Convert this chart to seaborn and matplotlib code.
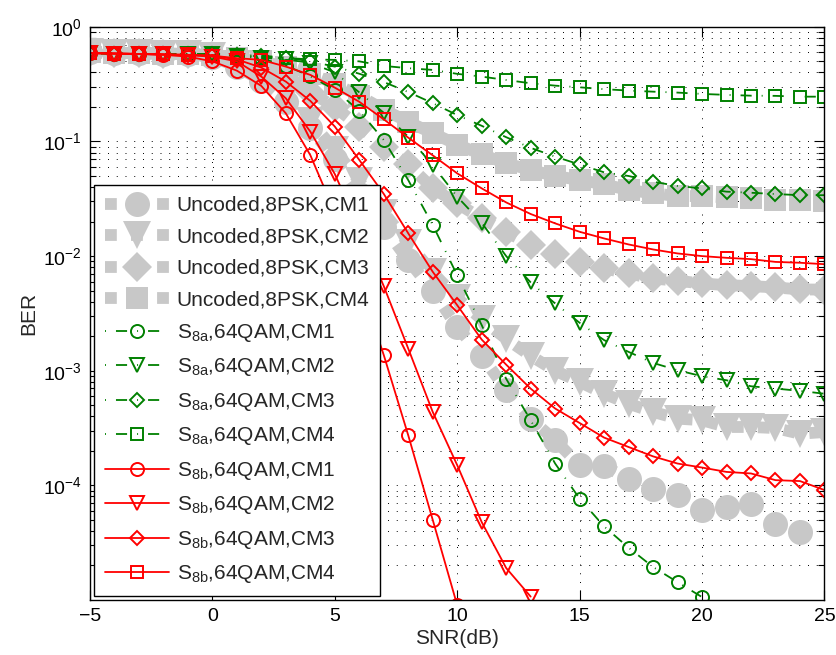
import numpy as np
import matplotlib
matplotlib.use("Agg")
import matplotlib.pyplot as plt
import matplotlib.ticker as mticker
import seaborn as sns

# SNR grid (dB)
snr = list(range(-5, 26))

# Uncoded, 8PSK
unc_cm1 = [0.60, 0.595, 0.59, 0.585, 0.575, 0.55, 0.45, 0.34, 0.22, 0.13, 0.07, 0.035, 0.018,
           9.2e-3, 5.0e-3, 2.4e-3, 1.35e-3, 6.8e-4, 3.8e-4, 2.47e-4, 1.5e-4, 1.47e-4, 1.14e-4,
           9.3e-5, 8.2e-5, 6.05e-5, 6.46e-5, 6.9e-5, 4.63e-5, 3.91e-5]
unc_cm2 = [0.60, 0.595, 0.59, 0.585, 0.575, 0.56, 0.47, 0.36, 0.25, 0.15, 0.085, 0.045, 0.024,
           0.013, 7.2e-3, 4.3e-3, 2.8e-3, 1.9e-3, 1.35e-3, 1.0e-3, 8.0e-4, 6.3e-4, 5.16e-4,
           4.37e-4, 3.82e-4, 3.7e-4, 3.23e-4, 3.23e-4, 3.16e-4, 2.82e-4, 2.92e-4]
unc_cm3 = [0.60, 0.595, 0.59, 0.585, 0.58, 0.56, 0.50, 0.43, 0.35, 0.27, 0.20, 0.135, 0.09,
           0.063, 0.039, 0.0288, 0.0213, 0.0163, 0.0125, 0.0105, 8.9e-3, 7.8e-3, 7.06e-3,
           6.38e-3, 6.09e-3, 5.77e-3, 5.58e-3, 5.47e-3, 5.33e-3, 5.12e-3, 5.1e-3]
unc_cm4 = [0.60, 0.595, 0.59, 0.585, 0.58, 0.57, 0.54, 0.50, 0.45, 0.39, 0.32, 0.25, 0.19,
           0.148, 0.118, 0.094, 0.077, 0.0645, 0.0564, 0.050, 0.0461, 0.0423, 0.0377, 0.0353,
           0.0334, 0.0334, 0.0325, 0.0319, 0.0308, 0.0308, 0.0304]

# S8a, 64QAM
s8a_cm1 = [0.59, 0.585, 0.58, 0.58, 0.575, 0.57, 0.56, 0.53, 0.46, 0.37, 0.282, 0.185, 0.103,
           0.046, 0.0187, 6.8e-3, 2.5e-3, 8.5e-4, 3.7e-4, 1.55e-4, 7.65e-5, 4.38e-5, 2.86e-5,
           1.94e-5, 1.43e-5, 1.06e-5]
s8a_cm2 = [0.59, 0.585, 0.58, 0.58, 0.575, 0.575, 0.56, 0.54, 0.52, 0.485, 0.40, 0.268, 0.178,
           0.11, 0.062, 0.033, 0.0195, 0.0100, 5.9e-3, 3.86e-3, 2.62e-3, 1.85e-3, 1.46e-3,
           1.17e-3, 1.01e-3, 8.95e-4, 8.26e-4, 7.32e-4, 6.99e-4, 6.67e-4, 6.3e-4]
s8a_cm3 = [0.59, 0.585, 0.58, 0.58, 0.58, 0.575, 0.57, 0.56, 0.54, 0.50, 0.45, 0.39, 0.33,
           0.27, 0.216, 0.17, 0.137, 0.109, 0.088, 0.0737, 0.063, 0.0538, 0.050, 0.0446,
           0.0409, 0.039, 0.0365, 0.0357, 0.0348, 0.034, 0.034]
s8a_cm4 = [0.59, 0.585, 0.58, 0.58, 0.58, 0.575, 0.56, 0.55, 0.535, 0.52, 0.515, 0.50, 0.456,
           0.436, 0.421, 0.389, 0.368, 0.344, 0.322, 0.307, 0.297, 0.286, 0.278, 0.272, 0.267,
           0.26, 0.255, 0.251, 0.25, 0.246, 0.246]

# S8b, 64QAM
s8b_cm1 = [0.59, 0.585, 0.58, 0.57, 0.55, 0.50, 0.415, 0.305, 0.176, 0.076, 0.024, 6.0e-3,
           1.37e-3, 2.73e-4, 5.0e-5, 9e-6]
s8b_cm2 = [0.59, 0.585, 0.58, 0.575, 0.565, 0.55, 0.50, 0.368, 0.238, 0.122, 0.052, 0.0174,
           5.47e-3, 1.56e-3, 4.37e-4, 1.5e-4, 4.78e-5, 1.9e-5, 1.07e-5]
s8b_cm3 = [0.59, 0.585, 0.58, 0.575, 0.57, 0.56, 0.52, 0.441, 0.333, 0.226, 0.135, 0.069,
           0.0349, 0.0158, 7.3e-3, 3.73e-3, 1.87e-3, 1.13e-3, 6.98e-4, 4.68e-4, 3.5e-4, 2.61e-4,
           2.16e-4, 1.79e-4, 1.55e-4, 1.43e-4, 1.31e-4, 1.27e-4, 1.11e-4, 1.09e-4, 9.1e-5]
s8b_cm4 = [0.59, 0.585, 0.58, 0.575, 0.57, 0.56, 0.533, 0.515, 0.45, 0.381, 0.295, 0.222,
           0.156, 0.108, 0.0757, 0.0527, 0.039, 0.0294, 0.0233, 0.0193, 0.0163, 0.01426,
           0.01264, 0.01143, 0.01055, 0.0100, 0.00966, 0.00941, 0.0089, 0.00875, 0.0085]

sns.set_style("ticks")
plt.rcParams["font.family"] = ["Liberation Sans", "DejaVu Sans"]
plt.rcParams["mathtext.default"] = "regular"

fig = plt.figure(figsize=(8.37, 6.55), dpi=100)
ax = fig.add_axes([0.1075, 0.084, 0.8775, 0.875])
ax.set_yscale("log")

gray = "#c8c8c8"
green = "#008000"
red = "#ff0000"

# gray thick dotted lines with big filled markers
unc_style = dict(color=gray, lw=8.5, linestyle=(0, (1, 1.206)), markerfacecolor=gray,
                 markeredgecolor=gray, markeredgewidth=0)
uncoded = [(unc_cm1, "o", 18), (unc_cm2, "v", 19.5), (unc_cm3, "D", 15), (unc_cm4, "s", 16.5)]
for i, (vals, mk, ms) in enumerate(uncoded):
    sns.lineplot(x=snr[:len(vals)], y=vals, ax=ax, marker=mk, markersize=ms,
                 label="Uncoded,8PSK,CM%d" % (i + 1), **unc_style)

green_style = dict(color=green, lw=1.3, linestyle=(0, (0.54, 5.54, 6.15, 5.54)),
                   markerfacecolor="none", markeredgecolor=green, markeredgewidth=1.4)
red_style = dict(color=red, lw=1.3, linestyle="-",
                 markerfacecolor="none", markeredgecolor=red, markeredgewidth=1.4)
marks = [("o", 9.4), ("v", 9.4), ("D", 7.6), ("s", 8.6)]

for i, vals in enumerate([s8a_cm1, s8a_cm2, s8a_cm3, s8a_cm4]):
    sns.lineplot(x=snr[:len(vals)], y=vals, ax=ax, marker=marks[i][0], markersize=marks[i][1],
                 label="S$_{8a}$,64QAM,CM%d" % (i + 1), **green_style)
for i, vals in enumerate([s8b_cm1, s8b_cm2, s8b_cm3, s8b_cm4]):
    sns.lineplot(x=snr[:len(vals)], y=vals, ax=ax, marker=marks[i][0], markersize=marks[i][1],
                 label="S$_{8b}$,64QAM,CM%d" % (i + 1), **red_style)

ax.set_xlim(-5, 25)
ax.set_ylim(1e-5, 1)
ax.set_xticks([-5, 0, 5, 10, 15, 20, 25])
ax.set_xticklabels(["\u22125", "0", "5", "10", "15", "20", "25"])
ax.yaxis.set_major_locator(mticker.FixedLocator([1e-4, 1e-3, 1e-2, 1e-1, 1]))
ax.yaxis.set_minor_locator(mticker.LogLocator(base=10, subs=np.arange(2, 10), numticks=20))
ax.yaxis.set_minor_formatter(mticker.NullFormatter())
ax.xaxis.set_minor_locator(mticker.NullLocator())

grid_ls = (0, (1, 8))
ax.grid(True, which="major", axis="both", color="k", lw=0.7, linestyle=grid_ls)
ax.grid(True, which="minor", axis="y", color="k", lw=0.7, linestyle=grid_ls)

ax.tick_params(which="both", direction="in", top=True, right=True, labelsize=14,
               colors="k", width=0.8)
ax.tick_params(which="major", length=7, pad=6)
ax.tick_params(which="minor", length=4)
for sp in ax.spines.values():
    sp.set_color("k")
    sp.set_linewidth(1.0)

ax.set_xlabel("SNR(dB)", fontsize=15, labelpad=3)
ax.set_ylabel("BER", fontsize=15, labelpad=3)

leg = ax.legend(loc="lower left", fontsize=15, frameon=True, fancybox=False, framealpha=1,
                edgecolor="k", handlelength=3.07, handletextpad=0.4, labelspacing=0.6,
                borderpad=0.5, borderaxespad=0.2)
leg.get_frame().set_linewidth(1.0)

fig.savefig("out.png", dpi=100)
